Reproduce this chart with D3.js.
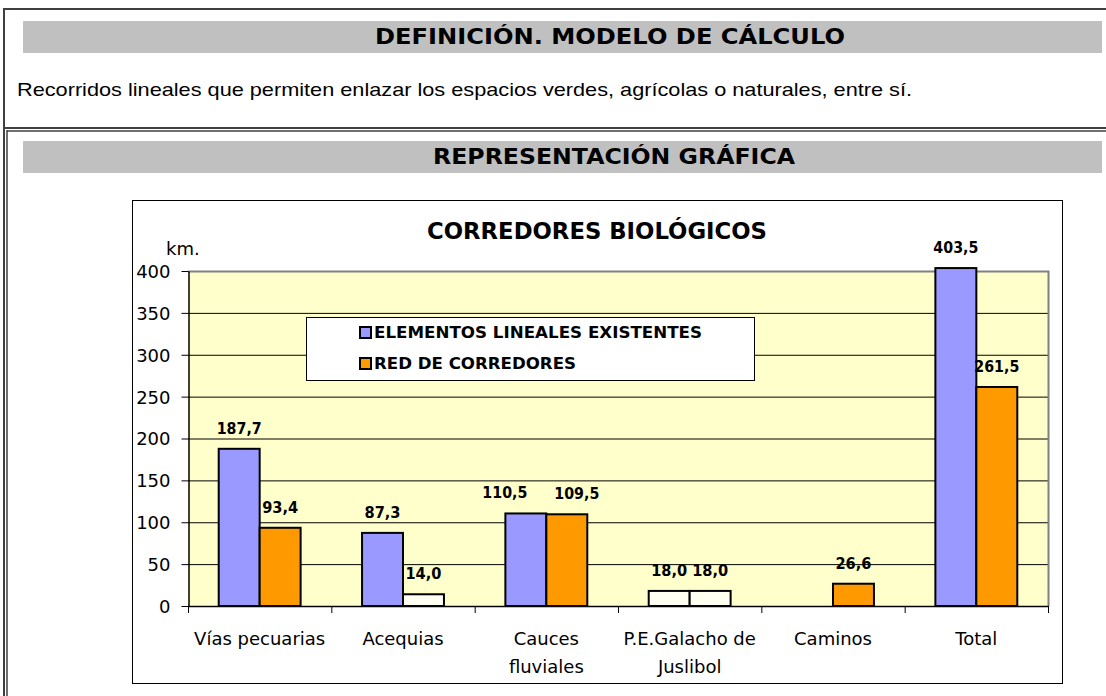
<!DOCTYPE html>
<html>
<head>
<meta charset="utf-8">
<script src="https://d3js.org/d3.v7.min.js"></script>
<style>
  body { margin: 0; background: #fff; }
  .tab { font-family: "DejaVu Sans", sans-serif; font-weight: bold; fill: #000; }
  .grid line { stroke: #000; stroke-width: 1; }
  .axis text { font-family: "DejaVu Sans", sans-serif; font-size: 18px; fill: #000; }
  .axis path, .axis line { stroke: #000; }
  .lbl { font-family: "DejaVu Sans", sans-serif; font-weight: bold; font-size: 16px; text-anchor: middle; }
</style>
</head>
<body>
<div id="chart"></div>
<script>
// chart data
var categories = ["Vías pecuarias", "Acequias", "Cauces fluviales", "P.E.Galacho de Juslibol", "Caminos", "Total"];
var categoryLines = [["Vías pecuarias"], ["Acequias"], ["Cauces", "fluviales"], ["P.E.Galacho de", "Juslibol"], ["Caminos"], ["Total"]];
var series = ["ELEMENTOS LINEALES EXISTENTES", "RED DE CORREDORES"];
var existentes = [187.7, 87.3, 110.5, 18.0, null, 403.5];
var corredores = [93.4, 14.0, 109.5, 18.0, 26.6, 261.5];
var yTicks = [0, 50, 100, 150, 200, 250, 300, 350, 400];

var seriesColors = ["#9999ff", "#ff9900"];
// points that Excel shows with a pale fill: [category index, series index]
var paleBars = [[1, 1], [3, 0], [3, 1]];

var W = 1106, H = 696;
var svg = d3.select("#chart").append("svg")
    .attr("width", W)
    .attr("height", H);

// ---- page frame ----
var frame = svg.append("g").attr("fill", "none").attr("stroke", "#404040");
frame.append("line").attr("x1", 3).attr("x2", W).attr("y1", 9).attr("y2", 9).attr("stroke-width", 2);
frame.append("line").attr("x1", 4).attr("x2", 4).attr("y1", 8).attr("y2", H).attr("stroke-width", 2);
frame.append("line").attr("x1", 7).attr("x2", 7).attr("y1", 130).attr("y2", H).attr("stroke-width", 1.5);
frame.append("line").attr("x1", 4).attr("x2", W).attr("y1", 128).attr("y2", 128).attr("stroke-width", 2);
frame.append("line").attr("x1", 7).attr("x2", W).attr("y1", 131).attr("y2", 131).attr("stroke-width", 1.5);

svg.append("rect").attr("x", 23).attr("y", 21).attr("width", 1079).attr("height", 32).attr("fill", "#c0c0c0");
svg.append("rect").attr("x", 23).attr("y", 141).attr("width", 1079).attr("height", 32).attr("fill", "#c0c0c0");

svg.append("text").attr("class", "tab")
    .attr("x", 610).attr("y", 44).attr("text-anchor", "middle")
    .attr("font-size", 22).attr("textLength", 470).attr("lengthAdjust", "spacingAndGlyphs")
    .text("DEFINICIÓN. MODELO DE CÁLCULO");

svg.append("text")
    .attr("x", 17).attr("y", 96)
    .attr("font-family", "'Liberation Sans', Arial, sans-serif").attr("font-size", 19)
    .attr("textLength", 895).attr("lengthAdjust", "spacingAndGlyphs")
    .text("Recorridos lineales que permiten enlazar los espacios verdes, agrícolas o naturales, entre sí.");

svg.append("text").attr("class", "tab")
    .attr("x", 614).attr("y", 164).attr("text-anchor", "middle")
    .attr("font-size", 22).attr("textLength", 362).attr("lengthAdjust", "spacingAndGlyphs")
    .text("REPRESENTACIÓN GRÁFICA");

// ---- chart box ----
svg.append("rect")
    .attr("x", 132.5).attr("y", 200.5).attr("width", 930).attr("height", 483)
    .attr("fill", "#fff").attr("stroke", "#000");

var plot = { left: 188, right: 1048, top: 271, bottom: 606 };

var x0 = d3.scaleBand()
    .domain(categories)
    .range([plot.left, plot.right])
    .padding(0);

var x1 = d3.scaleBand()
    .domain(series)
    .range([0, x0.bandwidth()])
    .paddingInner(0)
    .paddingOuter(0.75);

var y = d3.scaleLinear()
    .domain([0, 400])
    .range([plot.bottom, plot.top]);

// plot background
svg.append("rect")
    .attr("x", plot.left).attr("y", plot.top)
    .attr("width", plot.right - plot.left).attr("height", plot.bottom - plot.top)
    .attr("fill", "#ffffcc");

// gridlines
svg.append("g").attr("class", "grid")
  .selectAll("line")
    .data(yTicks.filter(function(d) { return d > 0 && d < 400; }))
  .enter().append("line")
    .attr("x1", plot.left).attr("x2", plot.right)
    .attr("y1", function(d) { return y(d) + 0.5; })
    .attr("y2", function(d) { return y(d) + 0.5; });

// plot border (grey top and right)
svg.append("path")
    .attr("d", "M" + plot.left + "," + (plot.top + 0.5) + "H" + (plot.right + 0.5) + "V" + plot.bottom)
    .attr("fill", "none").attr("stroke", "#808080").attr("stroke-width", 2);

// y axis
var yAxis = svg.append("g").attr("class", "axis")
    .attr("transform", "translate(" + (plot.left + 0.5) + ",0)")
    .call(d3.axisLeft(y).tickValues(yTicks).tickSize(7).tickPadding(11).tickSizeOuter(0));
yAxis.select(".domain").attr("stroke-width", 1.5);
yAxis.selectAll(".tick text").style("font-size", "18px").attr("dy", "0.36em");

svg.append("text")
    .attr("x", 166).attr("y", 255)
    .attr("font-family", "'DejaVu Sans', sans-serif").attr("font-size", 18)
    .text("km.");

// bars
var rows = categories.map(function(c, i) {
  return { cat: c, i: i, vals: [existentes[i], corredores[i]] };
});

function isPale(i, s) {
  return paleBars.some(function(p) { return p[0] === i && p[1] === s; });
}

var groups = svg.append("g").selectAll("g")
    .data(rows)
  .enter().append("g")
    .attr("transform", function(d) { return "translate(" + x0(d.cat) + ",0)"; });

var cells = groups.selectAll("g")
    .data(function(d) {
      return series.map(function(s, k) { return { s: s, k: k, i: d.i, v: d.vals[k] }; })
        .filter(function(e) { return e.v != null; });
    })
  .enter().append("g");

cells.append("rect")
    .attr("x", function(d) { return x1(d.s); })
    .attr("width", x1.bandwidth())
    .attr("y", function(d) { return y(d.v); })
    .attr("height", function(d) { return y(0) - y(d.v); })
    .attr("fill", function(d) { return isPale(d.i, d.k) ? "#fffff2" : seriesColors[d.k]; })
    .attr("stroke", "#000")
    .attr("stroke-width", 2);

var fmt = function(v) { return d3.format(".1f")(v).replace(".", ","); };

cells.append("text")
    .attr("class", "lbl")
    .attr("x", function(d) {
      var cx = x1(d.s) + x1.bandwidth() / 2;
      // Excel pushed the two Cauces labels apart so they don't collide
      if (d.i === 2) cx += d.k === 0 ? -21 : 10;
      return cx;
    })
    .attr("y", function(d) { return y(d.v) - 15; })
    .attr("textLength", function(d) { return fmt(d.v).length * 9; })
    .attr("lengthAdjust", "spacingAndGlyphs")
    .text(function(d) { return fmt(d.v); });

// x axis line and category ticks
svg.append("line")
    .attr("x1", plot.left).attr("x2", plot.right + 1)
    .attr("y1", plot.bottom + 0.5).attr("y2", plot.bottom + 0.5)
    .attr("stroke", "#000").attr("stroke-width", 1.5);

svg.append("g").selectAll("line")
    .data(categories.map(function(c) { return x0(c); }).concat([plot.right]))
  .enter().append("line")
    .attr("x1", function(d) { return d + 0.5; }).attr("x2", function(d) { return d + 0.5; })
    .attr("y1", plot.bottom).attr("y2", plot.bottom + 7)
    .attr("stroke", "#000");

var xl = svg.append("g")
    .attr("font-family", "'DejaVu Sans', sans-serif").attr("font-size", 18)
    .attr("text-anchor", "middle")
  .selectAll("text")
    .data(categories)
  .enter().append("text")
    .attr("x", function(d) { return x0(d) + x0.bandwidth() / 2; })
    .attr("y", 645);

xl.selectAll("tspan")
    .data(function(d, i) { return categoryLines[i]; })
  .enter().append("tspan")
    .attr("x", function() { return d3.select(this.parentNode).attr("x"); })
    .attr("dy", function(d, j) { return j === 0 ? 0 : 28; })
    .text(function(d) { return d; });

// chart title
svg.append("text").attr("class", "tab")
    .attr("x", 597).attr("y", 239).attr("text-anchor", "middle")
    .attr("font-size", 23).attr("textLength", 340).attr("lengthAdjust", "spacingAndGlyphs")
    .text("CORREDORES BIOLÓGICOS");

// legend
var legend = svg.append("g");
legend.append("rect")
    .attr("x", 306.5).attr("y", 317.5).attr("width", 448).attr("height", 63)
    .attr("fill", "#fff").attr("stroke", "#000");

var li = legend.selectAll("g.item")
    .data(series)
  .enter().append("g")
    .attr("class", "item")
    .attr("transform", function(d, k) { return "translate(0," + (k * 31) + ")"; });

li.append("rect")
    .attr("x", 360).attr("y", 327).attr("width", 11).attr("height", 11)
    .attr("fill", function(d, k) { return seriesColors[k]; })
    .attr("stroke", "#000").attr("stroke-width", 2);

li.append("text")
    .attr("class", "tab")
    .attr("x", 374).attr("y", 338)
    .attr("font-size", 15)
    .attr("textLength", function(d, k) { return k === 0 ? 328 : 202; })
    .attr("lengthAdjust", "spacingAndGlyphs")
    .text(function(d) { return d; });
</script>
</body>
</html>
